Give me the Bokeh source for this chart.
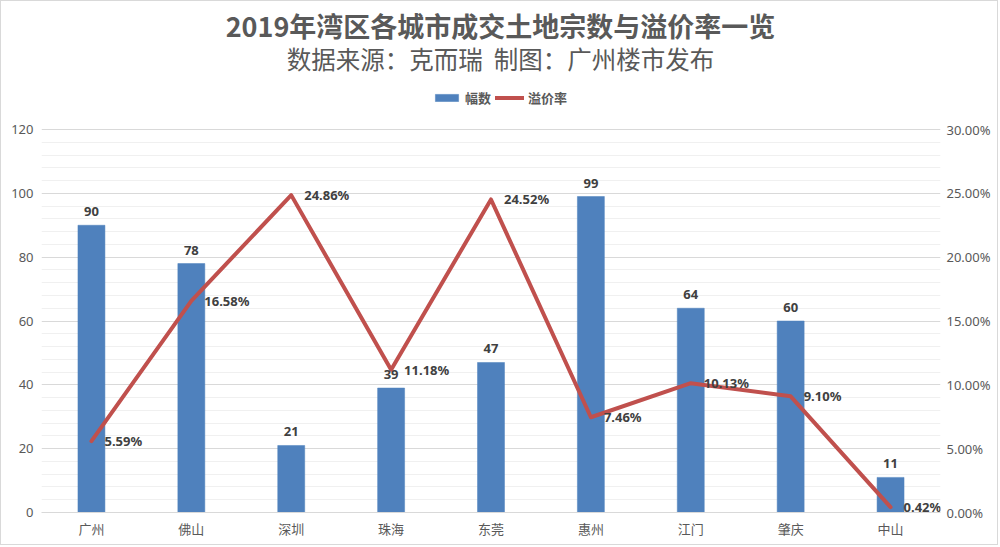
from bokeh.plotting import figure
from bokeh.models import (Range1d, LinearAxis, FixedTicker, NumeralTickFormatter,
                          Label, Legend, LegendItem, ColumnDataSource, FactorRange)
from bokeh.core.properties import value
from bokeh.embed import file_html
from bokeh.resources import INLINE

cities = ["广州", "佛山", "深圳", "珠海", "东莞", "惠州", "江门", "肇庆", "中山"]
counts = [90, 78, 21, 39, 47, 99, 64, 60, 11]
premium = [0.0559, 0.1658, 0.2486, 0.1118, 0.2452, 0.0746, 0.1013, 0.0910, 0.0042]
premium_labels = ["5.59%", "16.58%", "24.86%", "11.18%", "24.52%", "7.46%", "10.13%", "9.10%", "0.42%"]
count_labels = [str(c) for c in counts]
left_ticks = [0, 20, 40, 60, 80, 100, 120]
right_ticks = [0.0, 0.05, 0.10, 0.15, 0.20, 0.25, 0.30]

title_text = "2019年湾区各城市成交土地宗数与溢价率一览"
subtitle_text = "数据来源：克而瑞\u00a0\u00a0制图：广州楼市发布"
bar_name = "幅数"
line_name = "溢价率"

CJK = "Noto Sans CJK SC"
NUM = "Noto Sans"
GREY = "#595959"
DARK = "#404040"

# layout (pixels): frame spans full height above x axis; data area is the lower part
FRAME_H = 511.0
DATA_H = 383.0
ymax = 120 * FRAME_H / DATA_H
pmax = 0.30 * FRAME_H / DATA_H

src = ColumnDataSource(dict(city=cities, count=counts, pct=premium,
                            plab=premium_labels, clab=count_labels))

p = figure(width=998, height=545, x_range=FactorRange(*cities, range_padding=0),
           y_range=Range1d(0, ymax), output_backend="svg", toolbar_location=None,
           min_border_left=40, min_border_right=59, min_border_top=0, min_border_bottom=34)
p.styles = {"border": "1px solid #d9d9d9"}
p.outline_line_color = None
p.background_fill_color = "white"
p.border_fill_color = "white"
p.extra_y_ranges = {"pct": Range1d(0, pmax)}

bars = p.vbar(x="city", top="count", width=0.27, source=src, fill_color="#4F81BD",
              line_color="#4F81BD", line_width=0.5)
line = p.line(x="city", y="pct", source=src, y_range_name="pct", line_color="#C0504D",
              line_width=4, line_join="round", line_cap="round")

p.text(x="city", y="count", text="clab", source=src, text_align="center",
       text_baseline="bottom", y_offset=-9, text_font=value(NUM), text_font_style="bold",
       text_font_size="13px", text_color=DARK)
p.text(x="city", y="pct", text="plab", source=src, y_range_name="pct", text_align="left",
       text_baseline="middle", x_offset=13, text_font=value(NUM), text_font_style="bold",
       text_font_size="13px", text_color=DARK)

minor_left = [v for v in range(0, 121, 4) if v % 20 != 0]

yax = p.yaxis[0]
yax.ticker = FixedTicker(ticks=left_ticks, minor_ticks=minor_left)
yax.axis_line_color = None
yax.major_tick_line_color = None
yax.minor_tick_line_color = None
yax.major_tick_out = 0
yax.major_tick_in = 0
yax.minor_tick_out = 0
yax.minor_tick_in = 0
yax.major_label_text_font = NUM
yax.major_label_text_font_size = "13px"
yax.major_label_text_color = GREY
yax.major_label_standoff = 8

rax = LinearAxis(y_range_name="pct", ticker=FixedTicker(ticks=right_ticks),
                 formatter=NumeralTickFormatter(format="0.00%"))
rax.axis_line_color = None
rax.major_tick_line_color = None
rax.minor_tick_line_color = None
rax.major_tick_out = 0
rax.major_tick_in = 0
rax.minor_tick_out = 0
rax.minor_tick_in = 0
rax.major_label_text_font = NUM
rax.major_label_text_font_size = "13px"
rax.major_label_text_color = GREY
rax.major_label_standoff = 6
p.add_layout(rax, "right")

xax = p.xaxis[0]
xax.axis_line_color = "#d9d9d9"
xax.major_tick_line_color = None
xax.minor_tick_line_color = None
xax.major_tick_out = 0
xax.major_tick_in = 0
xax.minor_tick_out = 0
xax.minor_tick_in = 0
xax.major_label_text_font = CJK
xax.major_label_text_font_size = "13px"
xax.major_label_text_color = GREY
xax.major_label_standoff = 6

p.xgrid.grid_line_color = None
p.ygrid.grid_line_color = "#d9d9d9"
p.ygrid.minor_grid_line_color = "#f0f0f0"

p.add_layout(Label(x=459, y=487, x_units="screen", y_units="screen", text=title_text,
                   text_align="center", text_baseline="middle", text_font=CJK,
                   text_font_style="bold", text_font_size="27px", text_color=GREY))
p.add_layout(Label(x=459, y=454, x_units="screen", y_units="screen", text=subtitle_text,
                   text_align="center", text_baseline="middle", text_font=CJK,
                   text_font_size="24.5px", text_color=GREY))

legend = Legend(items=[LegendItem(label=bar_name, renderers=[bars]),
                       LegendItem(label=line_name, renderers=[line])],
                location=(391, 405), orientation="horizontal", padding=0, margin=0,
                spacing=4, label_standoff=4, glyph_width=29, glyph_height=9,
                border_line_color=None, background_fill_alpha=0,
                label_text_font=CJK, label_text_font_style="bold",
                label_text_font_size="13px", label_text_color=GREY,
                label_height=18)
p.add_layout(legend, "center")

open("out.html", "w").write(file_html(p, INLINE))
